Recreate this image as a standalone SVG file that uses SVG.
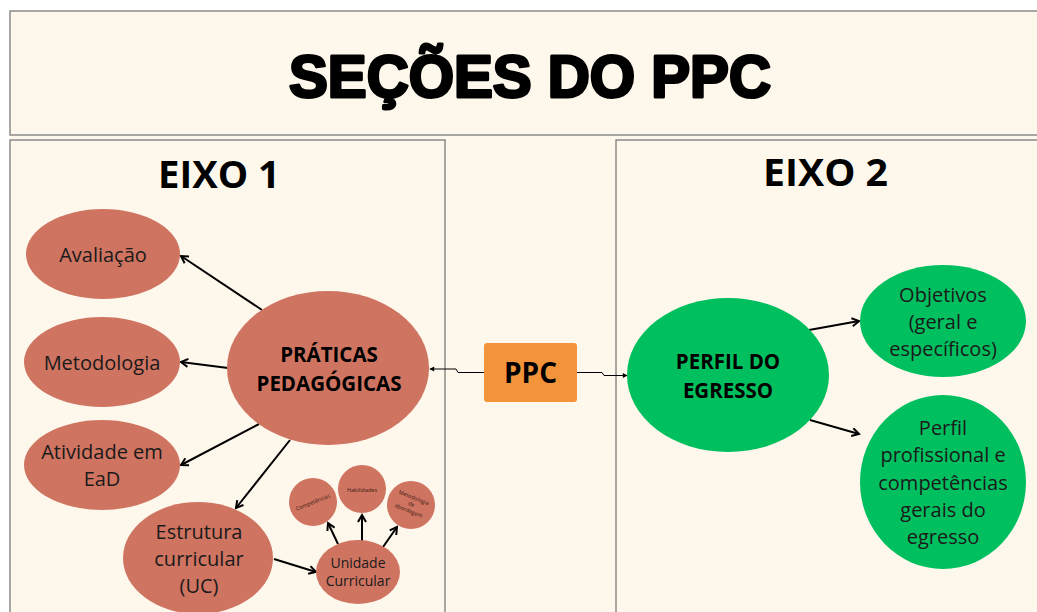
<svg xmlns="http://www.w3.org/2000/svg" width="1037" height="612" viewBox="0 0 1037 612">
<defs>
<style>
.panel{fill:#fef8ec;stroke:#7a7a7a;stroke-width:1.3}
.terra{fill:#cf7461}
.green{fill:#00bf5f}
.lbl{font-family:"Open Sans","Liberation Sans",sans-serif;font-size:20px;fill:#1a1a1a;text-anchor:middle}
.bold{font-weight:700;fill:#000;font-size:20.5px}
.tiny{font-family:"Open Sans","Liberation Sans",sans-serif;font-size:5.5px;fill:#3a1a14;text-anchor:middle}
.axis{font-family:"Open Sans","Liberation Sans",sans-serif;font-weight:700;font-size:37px;fill:#000;text-anchor:middle}
.arr{fill:none;stroke:#000;stroke-width:2;marker-end:url(#ah)}
.thin{fill:none;stroke:#000;stroke-width:1;marker-end:url(#ahs)}
</style>
<marker id="ah" viewBox="0 0 10 10" refX="8" refY="5" markerWidth="5" markerHeight="5" orient="auto" markerUnits="strokeWidth">
<path d="M1,1 L8,5 L1,9" fill="none" stroke="#000" stroke-width="2"/>
</marker>
<marker id="ahs" viewBox="0 0 10 10" refX="8" refY="5" markerWidth="6" markerHeight="6" orient="auto" markerUnits="strokeWidth">
<path d="M1,1 L9,5 L1,9 Z" fill="#000"/>
</marker>
</defs>
<rect x="0" y="0" width="1037" height="612" fill="#ffffff"/>
<rect x="10" y="135" width="1027" height="477" fill="#fef8ec"/>

<g id="header">
<rect class="panel" x="10" y="11" width="1040" height="124"/>
<text x="530" y="97" font-family="'Liberation Sans',Arial,sans-serif" font-weight="900" font-size="60" fill="#000" stroke="#000" stroke-width="3" stroke-linejoin="round" text-anchor="middle" textLength="482" lengthAdjust="spacingAndGlyphs">SEÇÕES DO PPC</text>
</g>

<g id="eixo1">
<rect class="panel" x="10" y="140" width="435" height="480"/>
<text class="axis" x="219" y="188" textLength="122" lengthAdjust="spacingAndGlyphs">EIXO 1</text>
</g>
<g id="eixo2">
<rect class="panel" x="616" y="140" width="430" height="480"/>
<text class="axis" x="825.5" y="186" textLength="125" lengthAdjust="spacingAndGlyphs">EIXO 2</text>
</g>

<g id="connectors">
<line class="arr" x1="262" y1="310" x2="181" y2="256"/>
<line class="arr" x1="228" y1="368" x2="181" y2="362"/>
<line class="arr" x1="259" y1="424" x2="181" y2="465"/>
<line class="arr" x1="290" y1="440" x2="236" y2="508"/>
<line class="arr" x1="274" y1="559" x2="316" y2="572"/>
<line class="arr" x1="338" y1="544" x2="328" y2="523"/>
<line class="arr" x1="362" y1="541" x2="362" y2="515"/>
<line class="arr" x1="383" y1="547" x2="397" y2="527"/>
<line class="arr" x1="809" y1="330" x2="859" y2="321"/>
<line class="arr" x1="810" y1="420" x2="859" y2="434"/>
<path class="thin" d="M484,372.5 H458 L456,369 H430"/>
<path class="thin" d="M577,372.5 H602 L604,375.5 H627"/>
</g>

<g id="ppc">
<rect x="484" y="343" width="93" height="59" rx="3" fill="#f4943a"/>
<text x="530.5" y="383" font-family="'Open Sans','Liberation Sans',sans-serif" font-weight="700" font-size="28" fill="#000" text-anchor="middle">PPC</text>
</g>

<g id="praticas">
<ellipse class="terra" cx="328" cy="368" rx="101" ry="77"/>
<text class="lbl bold" x="329" y="362">PRÁTICAS</text>
<text class="lbl bold" x="329" y="391">PEDAGÓGICAS</text>
</g>
<g id="avaliacao">
<ellipse class="terra" cx="103" cy="254" rx="77" ry="45"/>
<text class="lbl" x="103" y="262">Avaliação</text>
</g>
<g id="metodologia">
<ellipse class="terra" cx="102" cy="362" rx="78" ry="45"/>
<text class="lbl" x="102" y="370">Metodologia</text>
</g>
<g id="atividade">
<ellipse class="terra" cx="102" cy="465" rx="78" ry="45"/>
<text class="lbl" x="102" y="459">Atividade em</text>
<text class="lbl" x="102" y="486">EaD</text>
</g>
<g id="estrutura">
<ellipse class="terra" cx="198" cy="558" rx="75" ry="56"/>
<text class="lbl" x="199" y="539">Estrutura</text>
<text class="lbl" x="199" y="566">curricular</text>
<text class="lbl" x="199" y="593">(UC)</text>
</g>
<g id="unidade">
<ellipse class="terra" cx="358" cy="572" rx="42" ry="32"/>
<text class="lbl" x="358" y="568" style="font-size:14px">Unidade</text>
<text class="lbl" x="358" y="586" style="font-size:14px">Curricular</text>
</g>
<g id="competencias">
<circle class="terra" cx="313" cy="502" r="24"/>
<text class="tiny" x="313" y="504" transform="rotate(-22 313 502)">Competências</text>
</g>
<g id="habilidades">
<circle class="terra" cx="362" cy="489" r="24"/>
<text class="tiny" x="362" y="492">Habilidades</text>
</g>
<g id="metodologia-abordagem">
<circle class="terra" cx="411" cy="505" r="24"/>
<g transform="rotate(22 411 505)">
<text class="tiny" x="411" y="499">Metodologia</text>
<text class="tiny" x="411" y="506">de</text>
<text class="tiny" x="411" y="513">abordagem</text>
</g>
</g>

<g id="perfil-egresso">
<ellipse class="green" cx="728" cy="375" rx="101" ry="77"/>
<text class="lbl bold" x="728" y="369">PERFIL DO</text>
<text class="lbl bold" x="728" y="398">EGRESSO</text>
</g>
<g id="objetivos">
<ellipse class="green" cx="943" cy="321" rx="83" ry="56"/>
<text class="lbl" x="943" y="302">Objetivos</text>
<text class="lbl" x="943" y="329">(geral e</text>
<text class="lbl" x="943" y="356">específicos)</text>
</g>
<g id="perfil-profissional">
<ellipse class="green" cx="943" cy="482" rx="83" ry="87"/>
<text class="lbl" x="943" y="435">Perfil</text>
<text class="lbl" x="943" y="462">profissional e</text>
<text class="lbl" x="943" y="490">competências</text>
<text class="lbl" x="943" y="517">gerais do</text>
<text class="lbl" x="943" y="544">egresso</text>
</g>
</svg>
